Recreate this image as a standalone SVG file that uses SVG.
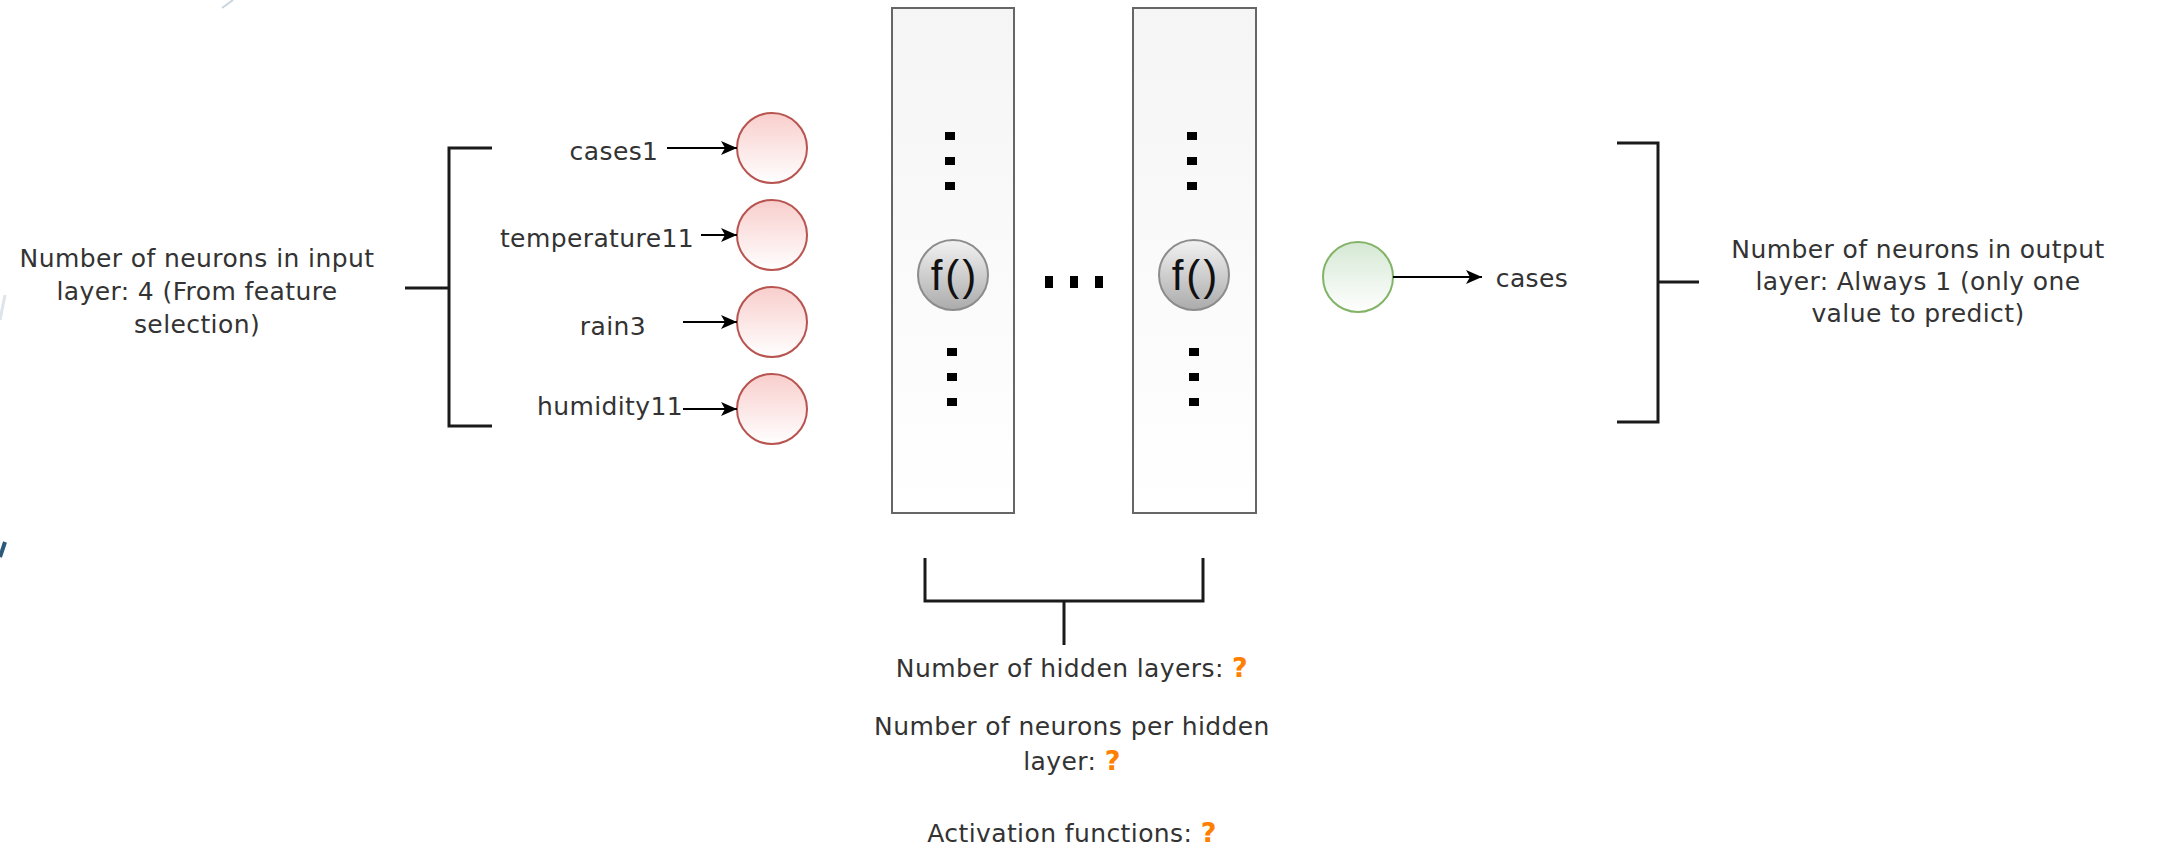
<svg xmlns="http://www.w3.org/2000/svg" width="2157" height="850" viewBox="0 0 2157 850">
<defs>
<linearGradient id="gRed" x1="0" y1="0" x2="0" y2="1"><stop offset="0" stop-color="#f8cecc"/><stop offset="1" stop-color="#ffffff"/></linearGradient>
<linearGradient id="gGreen" x1="0" y1="0" x2="0" y2="1"><stop offset="0" stop-color="#d5e8d4"/><stop offset="1" stop-color="#ffffff"/></linearGradient>
<linearGradient id="gLayer" x1="0" y1="0" x2="0" y2="1"><stop offset="0" stop-color="#f5f5f5"/><stop offset="1" stop-color="#ffffff"/></linearGradient>
<linearGradient id="gGray" x1="0" y1="0" x2="0" y2="1"><stop offset="0" stop-color="#f2f2f2"/><stop offset="1" stop-color="#ababab"/></linearGradient>
<marker id="arr" markerUnits="userSpaceOnUse" markerWidth="18" markerHeight="14" refX="16" refY="7" orient="auto">
<path d="M0,0 L16,7 L0,14 L4,7 Z" fill="#000"/>
</marker>
</defs>
<style>
.t{font-family:"DejaVu Sans","Verdana",sans-serif;font-size:25px;letter-spacing:0.4px;fill:#333333}
.q{fill:#ff8000;font-weight:bold;font-size:27px}
.br{fill:none;stroke:#1a1a1a;stroke-width:3}
.in{fill:url(#gRed);stroke:#b85450;stroke-width:2}
.out{fill:url(#gGreen);stroke:#82b366;stroke-width:2}
.layer{fill:url(#gLayer);stroke:#666666;stroke-width:2}
.fn{fill:url(#gGray);stroke:#8c8c8c;stroke-width:2}
.ft{font-family:"Liberation Sans",Arial,sans-serif;font-size:42px;letter-spacing:3px;fill:#111}
.dot{fill:#000}
.c{stroke:#000;stroke-width:2;fill:none;marker-end:url(#arr)}
</style>
<rect width="2157" height="850" fill="#ffffff"/>
<g id="artifacts">
<line x1="222" y1="8" x2="233" y2="0" stroke="#c9d5de" stroke-width="2"/>
<line x1="0" y1="320" x2="5" y2="295" stroke="#dde4ea" stroke-width="3"/>
<line x1="0" y1="557" x2="5" y2="542" stroke="#2d5a78" stroke-width="4"/>
</g>
<g id="input-label">
<path class="br" d="M492,148 H449 V426 H492 M405,288 H449"/>
<text class="t" text-anchor="middle" x="197" y="267">Number of neurons in input</text>
<text class="t" text-anchor="middle" x="197" y="300">layer: 4 (From feature</text>
<text class="t" text-anchor="middle" x="197" y="333">selection)</text>
</g>
<g id="in-cases1"><circle class="in" cx="772" cy="148" r="35"/><text class="t" text-anchor="middle" x="614" y="160">cases1</text></g>
<g id="in-temperature11"><circle class="in" cx="772" cy="235" r="35"/><text class="t" text-anchor="middle" x="597" y="247">temperature11</text></g>
<g id="in-rain3"><circle class="in" cx="772" cy="322" r="35"/><text class="t" text-anchor="middle" x="613" y="335">rain3</text></g>
<g id="in-humidity11"><circle class="in" cx="772" cy="409" r="35"/><text class="t" text-anchor="middle" x="610" y="415">humidity11</text></g>
<g id="hidden1">
<rect class="layer" x="892" y="8" width="122" height="505"/>
<rect class="dot" x="945" y="132" width="10" height="8"/>
<rect class="dot" x="945" y="157" width="10" height="8"/>
<rect class="dot" x="945" y="182" width="10" height="8"/>
<circle class="fn" cx="953" cy="275" r="35"/>
<text class="ft" text-anchor="middle" x="955" y="290">f()</text>
<rect class="dot" x="947" y="348" width="10" height="8"/>
<rect class="dot" x="947" y="373" width="10" height="8"/>
<rect class="dot" x="947" y="398" width="10" height="8"/>
</g>
<g id="ellipsis">
<rect class="dot" x="1045" y="276" width="8" height="12"/>
<rect class="dot" x="1070" y="276" width="8" height="12"/>
<rect class="dot" x="1095" y="276" width="8" height="12"/>
</g>
<g id="hidden2">
<rect class="layer" x="1133" y="8" width="123" height="505"/>
<rect class="dot" x="1187" y="132" width="10" height="8"/>
<rect class="dot" x="1187" y="157" width="10" height="8"/>
<rect class="dot" x="1187" y="182" width="10" height="8"/>
<circle class="fn" cx="1194" cy="275" r="35"/>
<text class="ft" text-anchor="middle" x="1196" y="290">f()</text>
<rect class="dot" x="1189" y="348" width="10" height="8"/>
<rect class="dot" x="1189" y="373" width="10" height="8"/>
<rect class="dot" x="1189" y="398" width="10" height="8"/>
</g>
<g id="hidden-label">
<path class="br" d="M925,558 V601 H1203 V558 M1064,601 V645"/>
<text class="t" text-anchor="middle" x="1072" y="677">Number of hidden layers: <tspan class="q">?</tspan></text>
<text class="t" text-anchor="middle" x="1072" y="735">Number of neurons per hidden</text>
<text class="t" text-anchor="middle" x="1072" y="770">layer: <tspan class="q">?</tspan></text>
<text class="t" text-anchor="middle" x="1072" y="842">Activation functions: <tspan class="q">?</tspan></text>
</g>
<g id="out-node"><circle class="out" cx="1358" cy="277" r="35"/></g>
<g id="out-cases"><text class="t" text-anchor="middle" x="1532" y="287">cases</text></g>
<g id="output-label">
<path class="br" d="M1617,143 H1658 V422 H1617 M1658,282 H1699"/>
<text class="t" text-anchor="middle" x="1918" y="258">Number of neurons in output</text>
<text class="t" text-anchor="middle" x="1918" y="290">layer: Always 1 (only one</text>
<text class="t" text-anchor="middle" x="1918" y="322">value to predict)</text>
</g>
<g id="connectors">
<line class="c" x1="667" y1="148" x2="737" y2="148"/>
<line class="c" x1="701" y1="235" x2="737" y2="235"/>
<line class="c" x1="683" y1="322" x2="737" y2="322"/>
<line class="c" x1="683" y1="409" x2="737" y2="409"/>
<line class="c" x1="1393" y1="277" x2="1482" y2="277"/>
</g>
</svg>
